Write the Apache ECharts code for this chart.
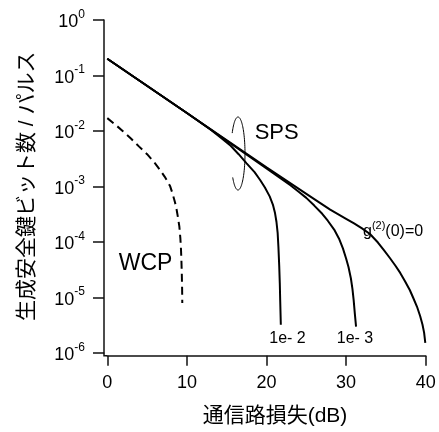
<!DOCTYPE html>
<html>
<head>
<meta charset="utf-8">
<script src="https://cdn.jsdelivr.net/npm/echarts@6/dist/echarts.min.js"></script>
<style>
html,body{margin:0;padding:0;background:#fff;}
#main{width:439px;height:432px;}
</style>
</head>
<body>
<div id="main"></div>
<script>
// ---- data (loss in dB, key rate per pulse) ----
const xTicks = [0, 10, 20, 30, 40];
const yTicks = [1e-6, 1e-5, 1e-4, 1e-3, 1e-2, 1e-1, 1];

const wcpLoss = [0, 1, 2, 3, 4, 5, 6, 6.6, 7.2, 7.6, 7.9, 8.2, 8.45, 8.63, 8.85, 9.05, 9.18, 9.26, 9.32, 9.36, 9.40, 9.42];
const wcpRate = [1.7e-2, 1.3e-2, 9.8e-3, 7.2e-3, 5.2e-3, 3.8e-3, 2.6e-3, 2.0e-3, 1.5e-3, 1.2e-3, 1.0e-3, 7.4e-4, 5.5e-4, 4.4e-4, 2.9e-4, 1.9e-4, 1.15e-4, 7.2e-5, 4.2e-5, 2.6e-5, 1.4e-5, 7.9e-6];

const sps0Loss = [0, 10, 20, 26, 28, 30, 31, 32, 33, 34, 34.7, 35.5, 36.2, 36.8, 37.4, 38, 38.4, 38.9, 39.3, 39.6, 39.8, 39.95];
const sps0Rate = [2.0e-1, 2.1e-2, 2.2e-3, 5.9e-4, 3.8e-4, 2.6e-4, 2.15e-4, 1.75e-4, 1.38e-4, 9.7e-5, 7.2e-5, 5.1e-5, 3.7e-5, 2.75e-5, 1.95e-5, 1.35e-5, 1.0e-5, 6.8e-6, 4.6e-6, 3.2e-6, 2.3e-6, 1.5e-6];

const sps3Loss = [0, 10, 20, 23, 24, 25, 26, 27, 27.7, 28.5, 29.1, 29.6, 30, 30.3, 30.6, 30.8, 30.95, 31.1, 31.25];
const sps3Rate = [2.0e-1, 2.1e-2, 2.1e-3, 1.05e-3, 8.1e-4, 6.2e-4, 4.5e-4, 3.2e-4, 2.4e-4, 1.66e-4, 1.15e-4, 7.6e-5, 5.0e-5, 3.5e-5, 2.2e-5, 1.4e-5, 8.9e-6, 5.0e-6, 2.95e-6];

const sps2Loss = [0, 10, 13, 14.5, 15.5, 16.5, 17.5, 18.5, 19.2, 19.8, 20.4, 20.8, 21.07, 21.25, 21.4, 21.5, 21.6, 21.67, 21.72, 21.8];
const sps2Rate = [2.0e-1, 2.1e-2, 1.05e-2, 7.1e-3, 5.4e-3, 3.8e-3, 2.6e-3, 1.8e-3, 1.3e-3, 9.5e-4, 6.6e-4, 4.7e-4, 3.3e-4, 2.3e-4, 1.45e-4, 7.9e-5, 3.6e-5, 1.8e-5, 8.9e-6, 3.2e-6];

const xName = '通信路損失(dB)';
const yName = '生成安全鍵ビット数 / パルス';

function pairs(xs, ys) { return xs.map((x, i) => [x, ys[i]]); }

const FONT = "'Liberation Sans', Arial, 'Noto Sans CJK JP', sans-serif";
const chart = echarts.init(document.getElementById('main'), null, {renderer: 'canvas'});

// ellipse annotation points (decoration)
const ell = [];
for (let t = -146; t <= 141; t += 3) {
  const r = t * Math.PI / 180;
  ell.push([238 + 7 * Math.cos(r), 153.5 + 36.5 * Math.sin(r)]);
}

const lineBase = {type: 'line', symbol: 'none', smooth: false,
  lineStyle: {color: '#000', width: 2}, itemStyle: {color: '#000'}, silent: true};

chart.setOption({
  animation: false,
  backgroundColor: '#fff',
  textStyle: {fontFamily: FONT},
  grid: {left: 107.3, right: 13.3, top: 20, bottom: 79.3, containLabel: false},
  xAxis: {
    type: 'value', min: 0, max: 40, interval: 10, offset: 3,
    axisLine: {show: true, onZero: false, lineStyle: {color: '#111', width: 1.5}},
    axisTick: {show: true, length: 10, lineStyle: {color: '#111', width: 1.5}},
    axisLabel: {color: '#000', fontSize: 18, margin: 18, fontFamily: FONT},
    splitLine: {show: false},
    name: xName, nameLocation: 'middle', nameGap: 50,
    nameTextStyle: {color: '#000', fontSize: 21, fontFamily: FONT, padding: [0, 0, 0, 17]}
  },
  yAxis: {
    type: 'log', logBase: 10, min: 1e-6, max: 1, interval: 1, offset: 3.3,
    axisLine: {show: true, onZero: false, lineStyle: {color: '#111', width: 1.5}},
    axisTick: {show: true, length: 11, lineStyle: {color: '#111', width: 1.5}},
    minorTick: {show: false},
    splitLine: {show: false},
    axisLabel: {
      margin: 19, color: '#000',
      formatter: function (v) {
        const e = Math.round(Math.log10(v));
        return '{b|10}{s|' + e + '}';
      },
      rich: {
        b: {fontSize: 18, fontFamily: FONT, color: '#000', verticalAlign: 'bottom', lineHeight: 23},
        s: {fontSize: 12, fontFamily: FONT, color: '#000', verticalAlign: 'top', lineHeight: 23}
      }
    },
    name: yName, nameLocation: 'middle', nameRotate: 90, nameGap: 66,
    nameTextStyle: {color: '#000', fontSize: 21, fontFamily: FONT}
  },
  series: [
    Object.assign({}, lineBase, {name: 'WCP', data: pairs(wcpLoss, wcpRate),
      lineStyle: {color: '#000', width: 2, type: [8, 5]}}),
    Object.assign({}, lineBase, {name: 'g2=0', data: pairs(sps0Loss, sps0Rate)}),
    Object.assign({}, lineBase, {name: '1e-3', data: pairs(sps3Loss, sps3Rate)}),
    Object.assign({}, lineBase, {name: '1e-2', data: pairs(sps2Loss, sps2Rate)})
  ],
  graphic: [
    {type: 'polyline', shape: {points: [[104, 352.7], [104, 355.7], [107.3, 355.7]]},
      style: {stroke: '#111', lineWidth: 1.5, fill: null}, silent: true},
    {type: 'polyline', shape: {points: ell}, style: {stroke: '#000', lineWidth: 1, fill: null}, silent: true},
    {type: 'text', x: 276.7, y: 133, style: {text: 'SPS', font: '22px ' + FONT, fill: '#000', align: 'center', verticalAlign: 'middle'}},
    {type: 'text', x: 145.5, y: 263.5, style: {text: 'WCP', font: '23px ' + FONT, fill: '#000', align: 'center', verticalAlign: 'middle'}},
    {type: 'text', x: 363, y: 230, style: {
      text: '{m|g}{s|(2)}{m|(0)=0}', align: 'left', verticalAlign: 'middle', fill: '#000',
      rich: {
        m: {fontSize: 16, fontFamily: FONT, fill: '#000', color: '#000', verticalAlign: 'bottom', lineHeight: 20},
        s: {fontSize: 11, fontFamily: FONT, fill: '#000', color: '#000', verticalAlign: 'top', lineHeight: 20}
      }}},
    {type: 'text', x: 287.5, y: 338.5, style: {text: '1e- 2', font: '16px ' + FONT, fill: '#000', align: 'center', verticalAlign: 'middle'}},
    {type: 'text', x: 355, y: 338.5, style: {text: '1e- 3', font: '16px ' + FONT, fill: '#000', align: 'center', verticalAlign: 'middle'}}
  ]
});
</script>
</body>
</html>
